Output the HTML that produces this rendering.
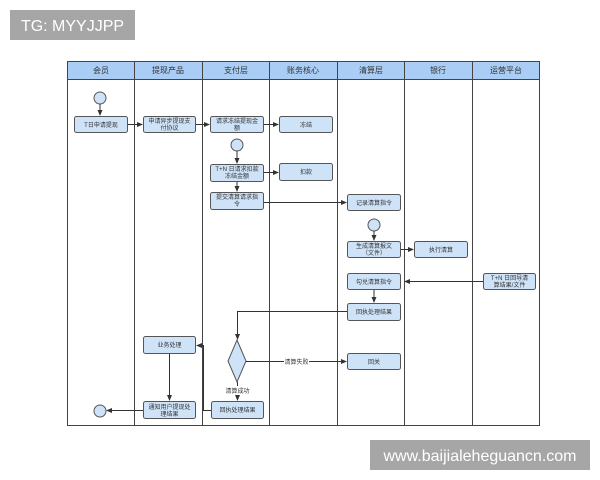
<!DOCTYPE html>
<html><head><meta charset="utf-8"><style>
html,body{margin:0;padding:0;background:#fff;width:600px;height:480px;overflow:hidden}
svg text{font-family:"Liberation Sans","Noto Sans CJK SC",sans-serif}
</style></head><body>
<svg width="600" height="480" xmlns="http://www.w3.org/2000/svg">
<defs>
<marker id="a" markerWidth="6" markerHeight="6" refX="5" refY="3" orient="auto" markerUnits="userSpaceOnUse">
<path d="M0,0.5 L6,3 L0,5.5 z" fill="#333"/></marker>
</defs>
<rect x="10" y="10" width="125" height="30" fill="#a6a6a6"/>
<text x="72.5" y="31" font-size="16" fill="#fff" text-anchor="middle">TG: MYYJJPP</text>
<rect x="370" y="440" width="220" height="30" fill="#a6a6a6"/>
<text x="480" y="461" font-size="16" fill="#fff" text-anchor="middle">www.baijialeheguancn.com</text>

<g stroke="#444" stroke-width="1">
<rect x="67.5" y="61.5" width="472" height="18" fill="#a9cdf5"/>
<rect x="67.5" y="61.5" width="472" height="364" fill="none"/>
<line x1="134.5" y1="61" x2="134.5" y2="426"/>
<line x1="202.5" y1="61" x2="202.5" y2="426"/>
<line x1="269.5" y1="61" x2="269.5" y2="426"/>
<line x1="337.5" y1="61" x2="337.5" y2="426"/>
<line x1="404.5" y1="61" x2="404.5" y2="426"/>
<line x1="472.5" y1="61" x2="472.5" y2="426"/>
</g>
<g font-size="8" fill="#333" text-anchor="middle">
<text x="101" y="73">会员</text><text x="168" y="73">提现产品</text><text x="236" y="73">支付层</text>
<text x="303" y="73">账务核心</text><text x="371" y="73">清算层</text><text x="438" y="73">银行</text><text x="506" y="73">运营平台</text>
</g>

<g fill="#cfe3f8" stroke="#555" stroke-width="1">
<circle cx="100" cy="98" r="6"/>
<circle cx="237" cy="145" r="6"/>
<circle cx="374" cy="225" r="6"/>
<circle cx="100" cy="411" r="6"/>
<rect x="74.5" y="116.5" width="53" height="16" rx="2"/>
<rect x="143.5" y="116.5" width="52" height="16" rx="2"/>
<rect x="210.5" y="116.5" width="53" height="16" rx="2"/>
<rect x="279.5" y="116.5" width="53" height="16" rx="2"/>
<rect x="210.5" y="164.5" width="53" height="17" rx="2"/>
<rect x="279.5" y="163.5" width="53" height="17" rx="2"/>
<rect x="210.5" y="192.5" width="53" height="17" rx="2"/>
<rect x="347.5" y="194.5" width="53" height="16" rx="2"/>
<rect x="347.5" y="241.5" width="53" height="16" rx="2"/>
<rect x="414.5" y="241.5" width="53" height="16" rx="2"/>
<rect x="347.5" y="273.5" width="53" height="16" rx="2"/>
<rect x="483.5" y="273.5" width="52" height="16" rx="2"/>
<rect x="347.5" y="303.5" width="53" height="17" rx="2"/>
<rect x="347.5" y="353.5" width="53" height="16" rx="2"/>
<rect x="143.5" y="336.5" width="52" height="17" rx="2"/>
<rect x="143.5" y="401.5" width="52" height="17" rx="2"/>
<rect x="211.5" y="401.5" width="52" height="17" rx="2"/>
<path d="M237,340 L246,361 L237,382 L228,361 Z"/>
</g>

<g stroke="#333" stroke-width="1" fill="none">
<line x1="100" y1="104" x2="100" y2="115" marker-end="url(#a)"/>
<line x1="128" y1="124.5" x2="142" y2="124.5" marker-end="url(#a)"/>
<line x1="196" y1="124.5" x2="209" y2="124.5" marker-end="url(#a)"/>
<line x1="264" y1="124.5" x2="278" y2="124.5" marker-end="url(#a)"/>
<line x1="237" y1="151" x2="237" y2="163" marker-end="url(#a)"/>
<line x1="264" y1="172.5" x2="278" y2="172.5" marker-end="url(#a)"/>
<line x1="237" y1="182" x2="237" y2="191" marker-end="url(#a)"/>
<line x1="264" y1="202.5" x2="346" y2="202.5" marker-end="url(#a)"/>
<line x1="374" y1="231" x2="374" y2="240" marker-end="url(#a)"/>
<line x1="401" y1="249.5" x2="413" y2="249.5" marker-end="url(#a)"/>
<line x1="483" y1="281.5" x2="405" y2="281.5" marker-end="url(#a)"/>
<line x1="374" y1="290" x2="374" y2="302" marker-end="url(#a)"/>
<polyline points="347,311.5 237.5,311.5 237.5,339" marker-end="url(#a)"/>
<line x1="246" y1="361.5" x2="346" y2="361.5" marker-end="url(#a)"/>
<line x1="237.5" y1="382" x2="237.5" y2="400" marker-end="url(#a)"/>
<line x1="169.5" y1="354" x2="169.5" y2="400" marker-end="url(#a)"/>
<polyline points="211,410.5 203.5,410.5 203.5,345.5 197,345.5" marker-end="url(#a)"/>
<line x1="143" y1="410.5" x2="107" y2="410.5" marker-end="url(#a)"/>
</g>
<rect x="284" y="357" width="25" height="9" fill="#fff"/>
<rect x="224" y="386" width="27" height="9" fill="#fff"/>

<g font-size="6" fill="#333" text-anchor="middle">
<text x="101" y="127">T日申请提现</text>
<text x="169.5" y="123">申请异步提现支</text><text x="169.5" y="130">付协议</text>
<text x="237" y="123">请求冻结提现金</text><text x="237" y="130">额</text>
<text x="306" y="127">冻结</text>
<text x="237" y="171">T+N 日请求扣款</text><text x="237" y="178">冻结金额</text>
<text x="306" y="174">扣款</text>
<text x="237" y="199">提交清算请求指</text><text x="237" y="206">令</text>
<text x="374" y="205">记录清算指令</text>
<text x="374" y="248">生成清算报文</text><text x="374" y="255">（文件）</text>
<text x="441" y="252">执行清算</text>
<text x="374" y="284">勾兑清算指令</text>
<text x="509.5" y="280">T+N 日回导清</text><text x="509.5" y="287">算结果/文件</text>
<text x="374" y="314">回执处理结果</text>
<text x="374" y="364">回关</text>
<text x="296.5" y="364">清算失败</text>
<text x="237.5" y="393">清算成功</text>
<text x="169.5" y="347">业务处理</text>
<text x="169.5" y="409">通知用户提现处</text><text x="169.5" y="416">理结果</text>
<text x="237.5" y="412">回执处理结果</text>
</g>
</svg>
</body></html>
